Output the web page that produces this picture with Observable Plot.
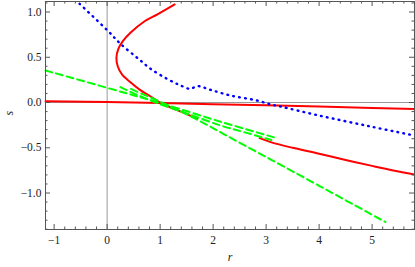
<!DOCTYPE html>
<html>
<head>
<meta charset="utf-8">
<script src="https://cdn.jsdelivr.net/npm/d3@7"></script>
<script src="https://cdn.jsdelivr.net/npm/@observablehq/plot@0.6"></script>
<style>
  html, body { margin: 0; padding: 0; background: #fff; }
</style>
</head>
<body>
<div id="chart"></div>
<script>
// ---- data ----
const xDomain = [-1.163, 5.80];
const yDomain = [-1.403, 1.116];
const xTicks = [-1, 0, 1, 2, 3, 4, 5];
const yTicks = [-1.0, -0.5, 0.0, 0.5, 1.0];

// red, nearly horizontal line
const redFlatR = [-1.163, 0, 1, 2, 3, 4, 5, 5.8];
const redFlatS = [0.015, 0.005, -0.005, -0.018, -0.030, -0.045, -0.060, -0.072];

// red arc (upper/lower branch through the vertex)
const redArcR = [1.275, 0.95, 0.70, 0.44, 0.30, 0.21, 0.175, 0.20, 0.28, 0.44, 0.62, 0.80, 1.0, 1.2, 1.45, 1.70];
const redArcS = [1.083, 0.975, 0.895, 0.77, 0.68, 0.59, 0.495, 0.40, 0.31, 0.224, 0.14, 0.075, 0.0, -0.055, -0.115, -0.18];

// red lower-right piece
const redLowR = [2.88, 3.1, 3.5, 4.0, 4.5, 5.0, 5.4, 5.8];
const redLowS = [-0.394, -0.44, -0.50, -0.565, -0.635, -0.70, -0.75, -0.795];

// blue dotted curve
const blueR = [-0.52, 0, 0.25, 0.63, 0.82, 1.13, 1.38, 1.57, 1.70, 1.95, 2.33, 2.83, 3.08, 3.27, 4.0, 4.97, 5.8];
const blueS = [1.09, 0.80, 0.65, 0.464, 0.372, 0.262, 0.19, 0.151, 0.182, 0.14, 0.077, 0.022, -0.02, -0.044, -0.144, -0.265, -0.365];

// green dashed lines
const greenAR = [-1.163, 0, 1, 2.14, 3.15];
const greenAS = [0.354, 0.162, -0.005, -0.212, -0.385];
const greenBR = [0.45, 0.70, 1.0, 1.67, 2.2, 2.77, 3.08, 4.0, 5.25];
const greenBS = [0.15, 0.085, 0.01, -0.18, -0.348, -0.53, -0.627, -0.92, -1.32];
const greenCR = [0.25, 0.50, 0.75, 1.0, 1.5, 2.14, 2.6, 3.1];
const greenCS = [0.17, 0.10, 0.04, -0.02, -0.12, -0.254, -0.33, -0.415];

// ---- build ----
const zip = (R, S) => R.map((r, i) => ({r, s: S[i]}));
const W = 415, H = 267;
const mL = 45, mR = 1, mT = 1, mB = 38;
const innerW = W - mL - mR, innerH = H - mT - mB;

const xMinor = d3.range(-1.0, 5.81, 0.2).map(v => +v.toFixed(2)).filter(v => Math.abs(v - Math.round(v)) > 1e-6);
const yMinor = d3.range(-1.4, 1.11, 0.1).map(v => +v.toFixed(2)).filter(v => Math.abs(v * 2 - Math.round(v * 2)) > 1e-6);

const frameColor = "#555";
const maj = 5, mnr = 2.5;

const chart = Plot.plot({
  width: W,
  height: H,
  marginLeft: mL,
  marginRight: mR,
  marginTop: mT,
  marginBottom: mB,
  style: {fontFamily: "'Liberation Serif', 'Times New Roman', serif", fontSize: "11.5px", background: "#fff", color: "#222"},
  x: {domain: xDomain, axis: null},
  y: {domain: yDomain, axis: null},
  marks: [
    // origin axes
    Plot.ruleX([0], {stroke: "#999", strokeWidth: 1}),
    Plot.ruleY([0], {stroke: "#999", strokeWidth: 1}),
    // curves
    Plot.line(zip(redFlatR, redFlatS), {x: "r", y: "s", stroke: "#ff0000", strokeWidth: 2}),
    Plot.line(zip(redArcR, redArcS), {x: "r", y: "s", stroke: "#ff0000", strokeWidth: 2, curve: "catmull-rom"}),
    Plot.line(zip(redLowR, redLowS), {x: "r", y: "s", stroke: "#ff0000", strokeWidth: 2, curve: "catmull-rom"}),
    Plot.line(zip(greenAR, greenAS), {x: "r", y: "s", stroke: "#00ff00", strokeWidth: 2, strokeDasharray: "7,4", curve: "catmull-rom"}),
    Plot.line(zip(greenBR, greenBS), {x: "r", y: "s", stroke: "#00ff00", strokeWidth: 2, strokeDasharray: "7,4", curve: "catmull-rom"}),
    Plot.line(zip(greenCR, greenCS), {x: "r", y: "s", stroke: "#00ff00", strokeWidth: 2, strokeDasharray: "7,4", curve: "catmull-rom"}),
    Plot.line(zip(blueR, blueS), {x: "r", y: "s", stroke: "#0000ff", strokeWidth: 2.4, strokeDasharray: "0.8,5.2", strokeLinecap: "round", curve: "catmull-rom"}),
    // frame
    Plot.frame({stroke: frameColor, strokeWidth: 1}),
    // inward ticks: bottom / top
    Plot.ruleX(xTicks, {stroke: frameColor, insetTop: innerH - maj}),
    Plot.ruleX(xTicks, {stroke: frameColor, insetBottom: innerH - maj}),
    Plot.ruleX(xMinor, {stroke: frameColor, insetTop: innerH - mnr}),
    Plot.ruleX(xMinor, {stroke: frameColor, insetBottom: innerH - mnr}),
    // inward ticks: left / right
    Plot.ruleY(yTicks, {stroke: frameColor, insetRight: innerW - maj}),
    Plot.ruleY(yTicks, {stroke: frameColor, insetLeft: innerW - maj}),
    Plot.ruleY(yMinor, {stroke: frameColor, insetRight: innerW - mnr}),
    Plot.ruleY(yMinor, {stroke: frameColor, insetLeft: innerW - mnr}),
    // tick labels
    Plot.axisX(xTicks, {anchor: "bottom", tickSize: 0, tickPadding: 6, tickFormat: d3.format("d"), label: null}),
    Plot.axisY(yTicks, {anchor: "left", tickSize: 0, tickPadding: 4, tickFormat: d3.format(".1f"), label: null}),
    // axis titles
    Plot.text(["r"], {frameAnchor: "bottom", dy: 31, fontStyle: "italic", fontSize: 12}),
    Plot.text(["s"], {frameAnchor: "left", dx: -36, rotate: -90, fontStyle: "italic", fontSize: 12})
  ]
});
document.getElementById("chart").appendChild(chart);
</script>
</body>
</html>
